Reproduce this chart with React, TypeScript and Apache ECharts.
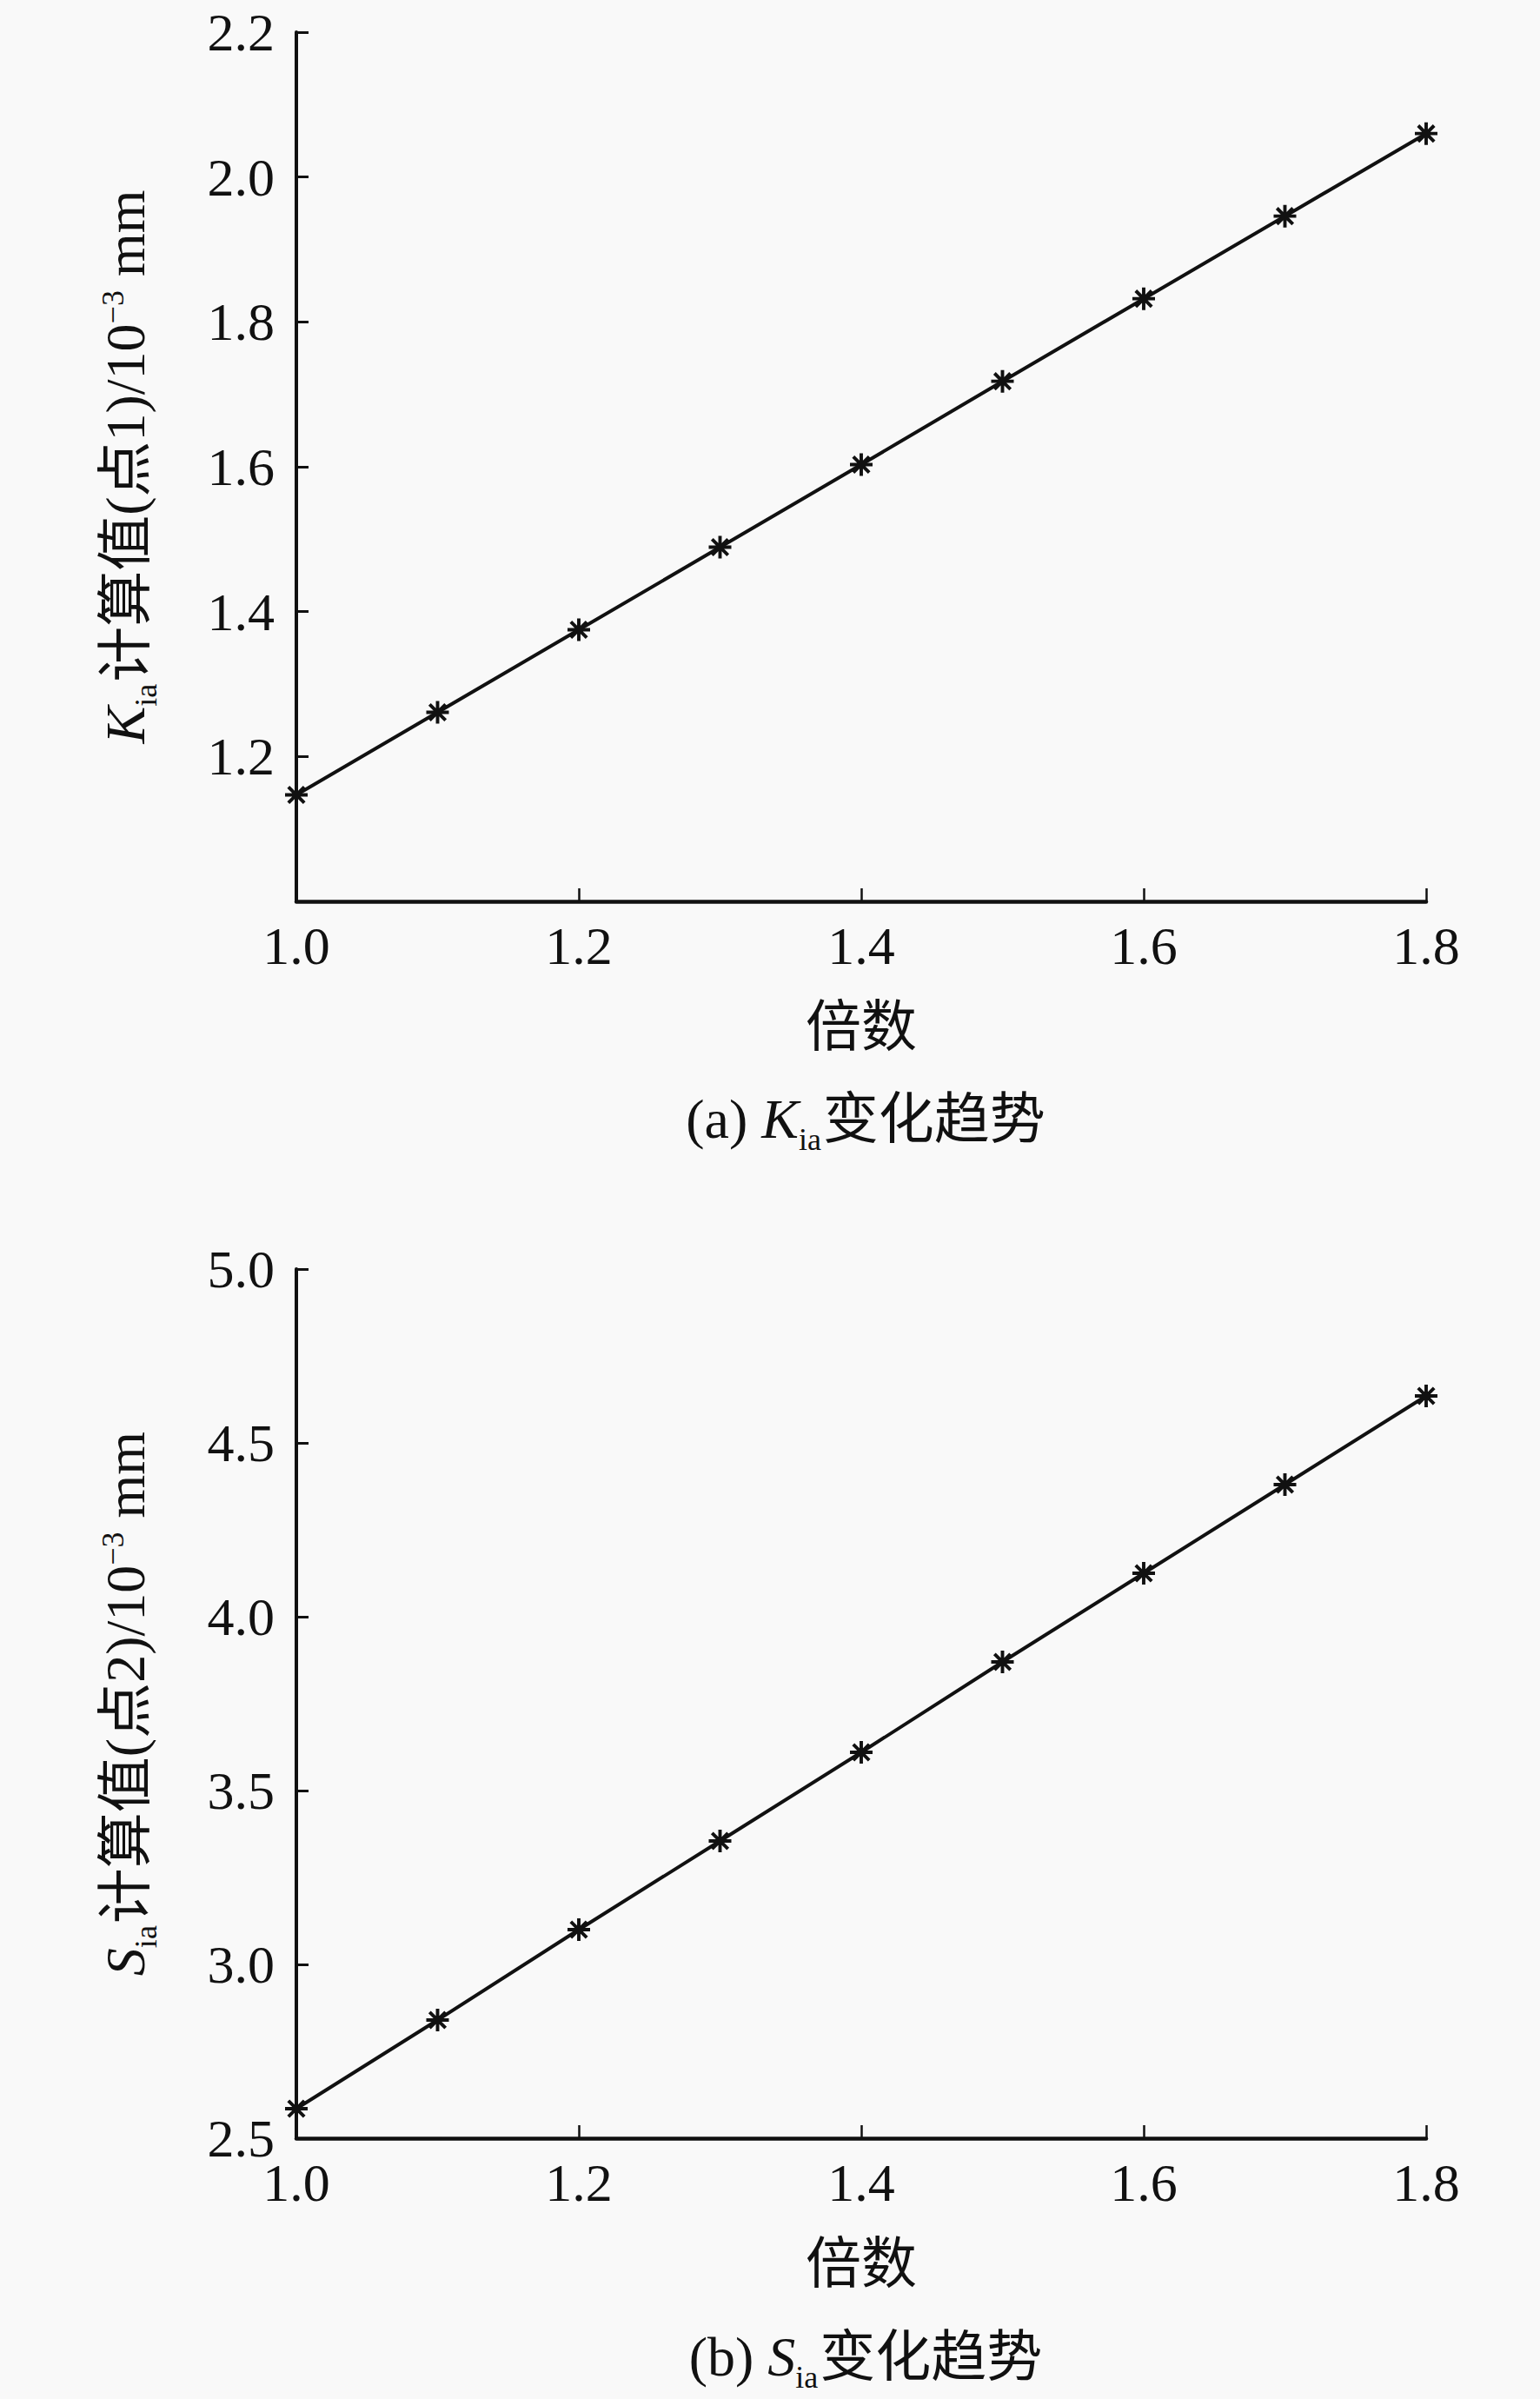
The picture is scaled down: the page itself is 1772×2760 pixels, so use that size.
import React, { useEffect, useRef } from 'react';
import * as echarts from 'echarts';

const multipliers = [1.0, 1.1, 1.2, 1.3, 1.4, 1.5, 1.6, 1.7, 1.8];
const kiaValues = [1.147, 1.261, 1.375, 1.489, 1.603, 1.718, 1.832, 1.946, 2.06];
const siaValues = [2.585, 2.84, 3.1, 3.355, 3.61, 3.87, 4.125, 4.38, 4.635];
const xRange = [1.0, 1.8, 0.2];
const kiaRange = [1.0, 2.2, 0.2];
const siaRange = [2.5, 5.0, 0.5];

const FONT = '"Liberation Serif", "Times New Roman", "Noto Sans CJK SC", serif';
const BG = '#f9f9f9';
const INK = '#111';

const STAR =
  'path://M20 11.5L20 8.5L0 8.5L0 11.5Z' +
  'M8.5 20L11.5 20L11.5 0L8.5 0Z' +
  'M15.99 18.13L18.13 15.99L4.01 1.87L1.87 4.01Z' +
  'M1.87 15.99L4.01 18.13L18.13 4.01L15.99 1.87Z';

const richName = {
  it: { fontFamily: FONT, fontSize: 64, fontStyle: 'italic', fontWeight: 'normal', color: INK },
  sub: {
    fontFamily: FONT,
    fontSize: 36,
    fontWeight: 'normal',
    color: INK,
    verticalAlign: 'bottom',
    height: 16,
    padding: [0, 2, 0, 0],
  },
  t: { fontFamily: FONT, fontSize: 64, fontWeight: 'normal', color: INK },
  sup: { fontFamily: FONT, fontSize: 36, fontWeight: 'normal', color: INK, verticalAlign: 'top' },
};

function xAxisCfg(gridIndex: number) {
  return {
    type: 'value',
    gridIndex,
    min: xRange[0],
    max: xRange[1],
    interval: xRange[2],
    name: '倍数',
    nameLocation: 'middle',
    nameGap: 112,
    nameTextStyle: { fontFamily: FONT, fontSize: 64, color: INK },
    axisLine: { show: true, onZero: false, lineStyle: { color: INK, width: 4.5 } },
    axisTick: { show: true, inside: true, length: 15, lineStyle: { color: INK, width: 2.5 } },
    axisLabel: {
      margin: 20,
      fontFamily: FONT,
      fontSize: 62,
      color: INK,
      formatter: (v: number) => v.toFixed(1),
    },
    splitLine: { show: false },
  };
}

function yAxisCfg(gridIndex: number, range: number[], name: string, showMin: boolean) {
  return {
    type: 'value',
    gridIndex,
    min: range[0],
    max: range[1],
    interval: range[2],
    name,
    nameLocation: 'middle',
    nameRotate: 90,
    nameGap: 165,
    nameTextStyle: { fontFamily: FONT, fontSize: 64, color: INK, rich: richName },
    axisLine: { show: true, onZero: false, lineStyle: { color: INK, width: 4 } },
    axisTick: { show: true, inside: true, length: 14, lineStyle: { color: INK, width: 3 } },
    axisLabel: {
      margin: 25,
      showMinLabel: showMin,
      fontFamily: FONT,
      fontSize: 62,
      color: INK,
      formatter: (v: number) => v.toFixed(1),
    },
    splitLine: { show: false },
  };
}

function seriesCfg(idx: number, values: number[]) {
  return {
    type: 'line',
    xAxisIndex: idx,
    yAxisIndex: idx,
    data: multipliers.map((m, i) => [m, values[i]]),
    symbol: STAR,
    symbolSize: 26,
    showSymbol: true,
    lineStyle: { color: INK, width: 4 },
    itemStyle: { color: INK },
    z: 3,
  };
}

export default function App() {
  const ref = useRef<HTMLDivElement>(null);
  useEffect(() => {
    document.body.style.margin = '0';
    document.body.style.background = BG;
    if (!ref.current) return;
    const chart = echarts.init(ref.current, undefined, { renderer: 'svg' });
    chart.setOption({
      animation: false,
      backgroundColor: BG,
      title: [
        {
          text: '{t|(a) }{it|K}{sub|ia}{t|变化趋势}',
          left: 991,
          top: 1250,
          textAlign: 'center',
          textStyle: { fontWeight: 'normal', rich: richName },
        },
        {
          text: '{t|(b) }{it|S}{sub|ia}{t|变化趋势}',
          left: 991,
          top: 2674,
          textAlign: 'center',
          textStyle: { fontWeight: 'normal', rich: richName },
        },
      ],
      grid: [
        { left: 341, top: 37, width: 1300, height: 1000, containLabel: false },
        { left: 341, top: 1460, width: 1300, height: 1000, containLabel: false },
      ],
      xAxis: [xAxisCfg(0), xAxisCfg(1)],
      yAxis: [
        yAxisCfg(0, kiaRange, '{it|K}{sub|ia}{t|计算值(点1)/10}{sup|−3}{t| mm}', false),
        yAxisCfg(1, siaRange, '{it|S}{sub|ia}{t|计算值(点2)/10}{sup|−3}{t| mm}', true),
      ],
      series: [seriesCfg(0, kiaValues), seriesCfg(1, siaValues)],
    });
    return () => chart.dispose();
  }, []);
  return <div ref={ref} style={{ width: 1772, height: 2760 }} />;
}
